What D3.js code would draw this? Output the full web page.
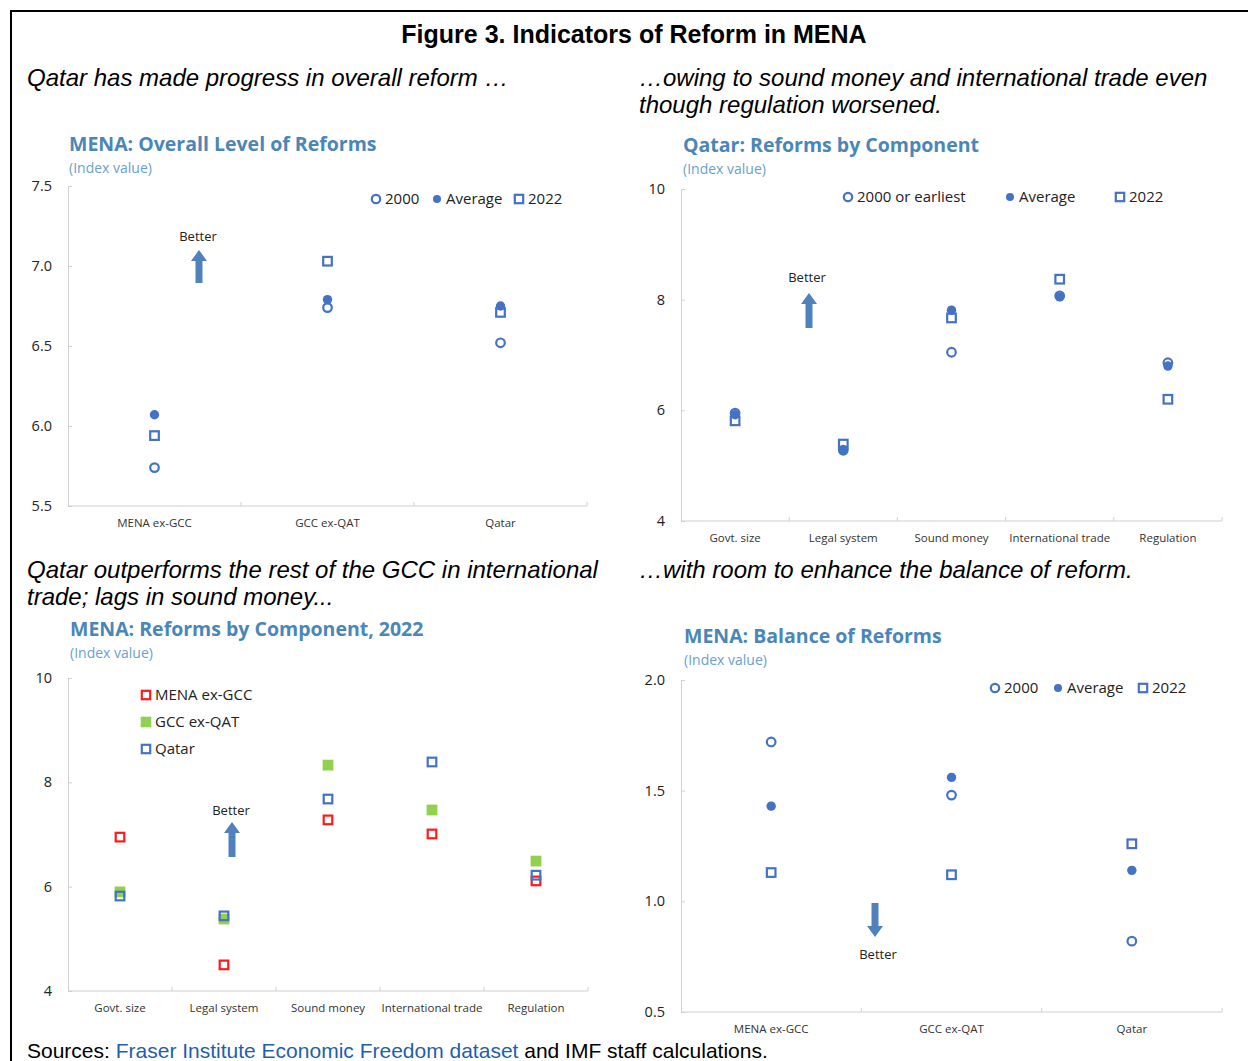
<!DOCTYPE html>
<html>
<head>
<meta charset="utf-8">
<script src="https://cdn.jsdelivr.net/npm/d3@7"></script>
<style>
  html, body { margin: 0; padding: 0; background: #fff; }
  svg { display: block; }
</style>
</head>
<body>
<svg id="chart" width="1248" height="1061"></svg>
<script>
// ---------------- DATA ----------------
const overallCats = ["MENA ex-GCC", "GCC ex-QAT", "Qatar"];
const overall2000 = [5.74, 6.74, 6.52];
const overallAvg  = [6.07, 6.79, 6.75];
const overall2022 = [5.94, 7.03, 6.71];
const overallTicks = [5.5, 6.0, 6.5, 7.0, 7.5];

const componentCats = ["Govt. size", "Legal system", "Sound money", "International trade", "Regulation"];
const qatar2000 = [5.95, 5.28, 7.05, 8.07, 6.86];
const qatarAvg  = [5.92, 5.27, 7.81, 8.05, 6.80];
const qatar2022 = [5.81, 5.39, 7.67, 8.37, 6.20];
const componentTicks = [4, 6, 8, 10];

const comp2022MenaExGcc = [6.95, 4.50, 7.28, 7.01, 6.11];
const comp2022GccExQat  = [5.90, 5.38, 8.33, 7.47, 6.49];
const comp2022Qatar     = [5.82, 5.44, 7.68, 8.39, 6.22];

const balanceCats = ["MENA ex-GCC", "GCC ex-QAT", "Qatar"];
const balance2000 = [1.72, 1.48, 0.82];
const balanceAvg  = [1.43, 1.56, 1.14];
const balance2022 = [1.13, 1.12, 1.26];
const balanceTicks = [0.5, 1.0, 1.5, 2.0];

// ---------------- STYLE ----------------
const BLUE = "#4472c4";
const RED = "#ff1a1a";
const GREEN = "#92d050";
const TITLE_BLUE = "#4a86b8";
const SUB_BLUE = "#6a9fcf";
const AXIS_GRAY = "#d0d0d0";
const CHART_FONT = "'Open Sans', 'Noto Sans', sans-serif";
const ARIAL = "'Liberation Sans', Arial, sans-serif";

const svg = d3.select("#chart");

// Frame
svg.append("line").attr("x1", 10).attr("x2", 1248).attr("y1", 11).attr("y2", 11)
  .attr("stroke", "#000").attr("stroke-width", 2);
svg.append("line").attr("x1", 11).attr("x2", 11).attr("y1", 10).attr("y2", 1061)
  .attr("stroke", "#000").attr("stroke-width", 2);

// Main title
svg.append("text").attr("x", 634).attr("y", 43).attr("text-anchor", "middle")
  .attr("font-family", ARIAL).attr("font-weight", "bold").attr("font-size", 25)
  .attr("fill", "#000").text("Figure 3. Indicators of Reform in MENA");

function italicText(x, y, str) {
  svg.append("text").attr("x", x).attr("y", y)
    .attr("font-family", ARIAL).attr("font-style", "italic").attr("font-size", 24)
    .attr("fill", "#000").text(str);
}
italicText(27, 86, "Qatar has made progress in overall reform …");
italicText(639, 86, "…owing to sound money and international trade even");
italicText(639, 113, "though regulation worsened.");
italicText(27, 578, "Qatar outperforms the rest of the GCC in international");
italicText(27, 605, "trade; lags in sound money...");
italicText(639, 578, "…with room to enhance the balance of reform.");

// Sources
const src = svg.append("text").attr("x", 27).attr("y", 1058)
  .attr("font-family", ARIAL).attr("font-size", 21).attr("fill", "#000");
src.append("tspan").text("Sources: ");
src.append("tspan").attr("fill", "#1f5fad").text("Fraser Institute Economic Freedom dataset");
src.append("tspan").text(" and IMF staff calculations.");

// ---------------- PANEL HELPERS ----------------
function panel(o) {
  const g = svg.append("g");
  g.append("text").attr("x", o.titleX).attr("y", o.titleY)
    .attr("font-family", CHART_FONT).attr("font-weight", "bold").attr("font-size", 19.5)
    .attr("fill", TITLE_BLUE).text(o.title);
  g.append("text").attr("x", o.titleX).attr("y", o.titleY + 22)
    .attr("font-family", CHART_FONT).attr("font-size", 14)
    .attr("fill", SUB_BLUE).text("(Index value)");

  const x = d3.scaleBand().domain(o.cats).range([o.x0, o.x1]);
  const y = d3.scaleLinear().domain(o.domain).range([o.yBot, o.yTop]);

  // y axis
  const ya = g.append("g").attr("transform", `translate(${o.x0},0)`)
    .call(d3.axisLeft(y).tickValues(o.ticks).tickFormat(o.fmt)
      .tickSizeInner(-4).tickSizeOuter(0).tickPadding(16));
  ya.select(".domain").attr("stroke", AXIS_GRAY);
  ya.selectAll(".tick line").attr("stroke", AXIS_GRAY);
  ya.selectAll(".tick text").attr("font-family", CHART_FONT).attr("font-size", 14.5)
    .attr("fill", "#222");

  // x axis
  const xa = g.append("g").attr("transform", `translate(0,${o.yBot})`)
    .call(d3.axisBottom(x).tickSize(0).tickPadding(13));
  xa.select(".domain").remove();
  xa.selectAll(".tick text").attr("font-family", CHART_FONT).attr("font-size", 11.5)
    .attr("fill", "#333");
  g.append("line").attr("x1", o.x0).attr("x2", o.x1).attr("y1", o.yBot).attr("y2", o.yBot)
    .attr("stroke", AXIS_GRAY).attr("stroke-width", 1.2);
  const bounds = o.cats.map((c, i) => x(c) + x.bandwidth());
  g.selectAll(".bt").data(bounds).enter().append("line")
    .attr("x1", d => d).attr("x2", d => d)
    .attr("y1", o.yBot).attr("y2", o.yBot - 4)
    .attr("stroke", AXIS_GRAY);

  return { g, x, y };
}

function circles(p, cats, vals, color) {
  p.g.append("g").selectAll("circle").data(vals).enter().append("circle")
    .attr("cx", (d, i) => p.x(cats[i]) + p.x.bandwidth() / 2)
    .attr("cy", d => p.y(d)).attr("r", 4.3)
    .attr("fill", "none").attr("stroke", color).attr("stroke-width", 2.2);
}
function dots(p, cats, vals, color) {
  p.g.append("g").selectAll("circle").data(vals).enter().append("circle")
    .attr("cx", (d, i) => p.x(cats[i]) + p.x.bandwidth() / 2)
    .attr("cy", d => p.y(d)).attr("r", 4.7).attr("fill", color);
}
function squares(p, cats, vals, color, filled) {
  p.g.append("g").selectAll("rect").data(vals).enter().append("rect")
    .attr("x", (d, i) => p.x(cats[i]) + p.x.bandwidth() / 2 - 4.3)
    .attr("y", d => p.y(d) - 4.3).attr("width", 8.6).attr("height", 8.6)
    .attr("fill", filled ? color : "none").attr("stroke", color).attr("stroke-width", 2.2);
}

function legendItem(g, x, y, kind, color, label) {
  if (kind === "circle") {
    g.append("circle").attr("cx", x).attr("cy", y).attr("r", 4.2)
      .attr("fill", "none").attr("stroke", color).attr("stroke-width", 2.2);
  } else if (kind === "dot") {
    g.append("circle").attr("cx", x).attr("cy", y).attr("r", 4).attr("fill", color);
  } else {
    g.append("rect").attr("x", x - 4.2).attr("y", y - 4.2).attr("width", 8.4).attr("height", 8.4)
      .attr("fill", kind === "fsquare" ? color : "none").attr("stroke", color).attr("stroke-width", 2.2);
  }
  g.append("text").attr("x", x + 9).attr("y", y).attr("dy", "0.35em")
    .attr("font-family", CHART_FONT).attr("font-size", 15).attr("fill", "#222").text(label);
}

function betterArrow(g, cx, yA, yB, up) {
  // yA = tip, yB = tail
  const hw = 8, sw = 3.5, hl = 11;
  const dir = up ? 1 : -1;
  const yh = yA + dir * hl;
  const pts = [[cx, yA], [cx + hw, yh], [cx + sw, yh], [cx + sw, yB],
               [cx - sw, yB], [cx - sw, yh], [cx - hw, yh]];
  g.append("path").attr("d", "M" + pts.map(p => p.join(",")).join("L") + "Z")
    .attr("fill", "#4f81bd");
}
function betterText(g, x, y) {
  g.append("text").attr("x", x).attr("y", y).attr("dy", "0.35em").attr("text-anchor", "middle")
    .attr("font-family", CHART_FONT).attr("font-size", 13).attr("fill", "#222").text("Better");
}

// ---------------- PANEL 1 ----------------
const p1 = panel({ title: "MENA: Overall Level of Reforms", titleX: 69, titleY: 151,
  cats: overallCats, x0: 68, x1: 587, yTop: 186, yBot: 506, domain: [5.5, 7.5],
  ticks: overallTicks, fmt: d3.format(".1f") });
circles(p1, overallCats, overall2000, BLUE);
dots(p1, overallCats, overallAvg, BLUE);
squares(p1, overallCats, overall2022, BLUE, false);
legendItem(p1.g, 376, 199, "circle", BLUE, "2000");
legendItem(p1.g, 437, 199, "dot", BLUE, "Average");
legendItem(p1.g, 519, 199, "square", BLUE, "2022");
betterText(p1.g, 198, 236);
betterArrow(p1.g, 199, 250, 283, true);

// ---------------- PANEL 2 ----------------
const p2 = panel({ title: "Qatar: Reforms by Component", titleX: 683, titleY: 152,
  cats: componentCats, x0: 681, x1: 1222, yTop: 189, yBot: 521, domain: [4, 10],
  ticks: componentTicks, fmt: d3.format("d") });
circles(p2, componentCats, qatar2000, BLUE);
dots(p2, componentCats, qatarAvg, BLUE);
squares(p2, componentCats, qatar2022, BLUE, false);
legendItem(p2.g, 848, 197, "circle", BLUE, "2000 or earliest");
legendItem(p2.g, 1010, 197, "dot", BLUE, "Average");
legendItem(p2.g, 1120, 197, "square", BLUE, "2022");
betterText(p2.g, 807, 277);
betterArrow(p2.g, 809, 293, 328, true);

// ---------------- PANEL 3 ----------------
const p3 = panel({ title: "MENA: Reforms by Component, 2022", titleX: 70, titleY: 636,
  cats: componentCats, x0: 68, x1: 588, yTop: 678, yBot: 991, domain: [4, 10],
  ticks: componentTicks, fmt: d3.format("d") });
squares(p3, componentCats, comp2022MenaExGcc, RED, false);
squares(p3, componentCats, comp2022GccExQat, GREEN, true);
squares(p3, componentCats, comp2022Qatar, BLUE, false);
legendItem(p3.g, 146, 695, "square", RED, "MENA ex-GCC");
legendItem(p3.g, 146, 722, "fsquare", GREEN, "GCC ex-QAT");
legendItem(p3.g, 146, 749, "square", BLUE, "Qatar");
betterText(p3.g, 231, 810);
betterArrow(p3.g, 232, 822, 857, true);

// ---------------- PANEL 4 ----------------
const p4 = panel({ title: "MENA: Balance of Reforms", titleX: 684, titleY: 643,
  cats: balanceCats, x0: 681, x1: 1222, yTop: 680, yBot: 1012, domain: [0.5, 2.0],
  ticks: balanceTicks, fmt: d3.format(".1f") });
circles(p4, balanceCats, balance2000, BLUE);
dots(p4, balanceCats, balanceAvg, BLUE);
squares(p4, balanceCats, balance2022, BLUE, false);
legendItem(p4.g, 995, 688, "circle", BLUE, "2000");
legendItem(p4.g, 1058, 688, "dot", BLUE, "Average");
legendItem(p4.g, 1143, 688, "square", BLUE, "2022");
betterArrow(p4.g, 875, 937, 903, false);
betterText(p4.g, 878, 954);
</script>
</body>
</html>
